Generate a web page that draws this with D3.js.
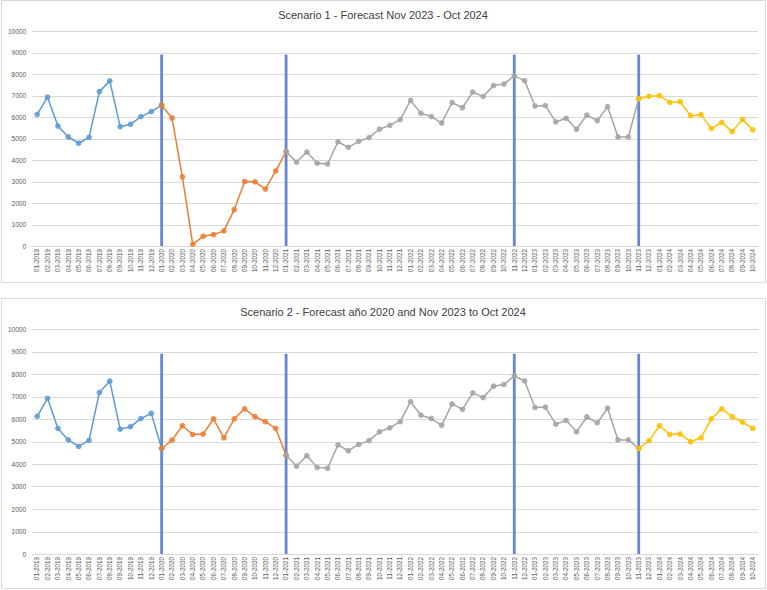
<!DOCTYPE html>
<html>
<head>
<meta charset="utf-8">
<script src="https://cdn.jsdelivr.net/npm/d3@7"></script>
<style>
  body { margin: 0; background: #fff; }
  svg { display: block; }
  text { font-family: "Liberation Sans", Arial, sans-serif; }
</style>
</head>
<body>
<div id="chart"></div>
<script>
// month labels 01-2019 .. 10-2024
const months = [];
for (let y = 2019; y <= 2024; y++) {
  for (let m = 1; m <= 12; m++) {
    if (y === 2024 && m > 10) break;
    months.push((m < 10 ? "0" + m : "" + m) + "-" + y);
  }
}

// actuals 01-2019 .. 12-2019
const actual2019 = [6120, 6920, 5580, 5070, 4780, 5050, 7180, 7680, 5550, 5660, 6020, 6250];
// actuals 01-2021 .. 10-2023
const actual2123 = [4390, 3900, 4370, 3850, 3810, 4850, 4590, 4870, 5040, 5430, 5610, 5880,
  6770, 6170, 6020, 5720, 6670, 6430, 7160, 6950, 7460, 7530, 7910, 7690,
  6510, 6530, 5770, 5940, 5430, 6090, 5830, 6480, 5070, 5070];

// scenario 1: 2020 actuals, forecast Nov 2023 - Oct 2024
const s1Year2020 = [6550, 5950, 3210, 80, 450, 530, 700, 1690, 3000, 2985, 2650, 3490];
const s1Forecast = [6850, 6960, 6990, 6680, 6710, 6060, 6110, 5460, 5750, 5320, 5890, 5400];

// scenario 2: forecast 2020, forecast Nov 2023 - Oct 2024
const s2Year2020 = [4690, 5060, 5700, 5310, 5330, 6010, 5160, 6010, 6450, 6100, 5880, 5580];
const s2Forecast = [4690, 5040, 5700, 5310, 5330, 4990, 5160, 6010, 6450, 6100, 5860, 5580];

const markers = ["01-2020", "01-2021", "11-2022", "11-2023"];
const markerTop = 8900;
const yTicks = d3.range(0, 10001, 1000);

const colors = { blue: "#5B9BD5", orange: "#ED7D31", gray: "#A5A5A5", yellow: "#FFC000" };

const width = 767, height = 590;
const svg = d3.select("#chart").append("svg")
  .attr("width", width)
  .attr("height", height);

function drawChart(cfg) {
  const values = actual2019.concat(cfg.y2020, actual2123, cfg.forecast);
  const data = months.map((m, i) => ({ m: m, v: values[i], i: i }));

  const g = svg.append("g");

  g.append("rect")
    .attr("x", 1.5).attr("y", cfg.top + 0.5)
    .attr("width", 764).attr("height", cfg.boxH)
    .attr("fill", "#fff")
    .attr("stroke", "#d9d9d9");

  const x = d3.scaleBand().domain(months).range([32, 758]);
  const y = d3.scaleLinear().domain([0, 10000]).range([cfg.y0, cfg.y1]);
  const cx = d => x(d.m) + x.bandwidth() / 2;

  g.append("text")
    .attr("x", cfg.titleX).attr("y", cfg.titleY)
    .attr("text-anchor", "middle")
    .attr("font-size", 11)
    .attr("fill", "#404040")
    .text(cfg.title);

  // gridlines
  g.append("g").selectAll("line")
    .data(yTicks)
    .enter().append("line")
    .attr("x1", 32).attr("x2", 758)
    .attr("y1", d => Math.round(y(d)) + 0.5)
    .attr("y2", d => Math.round(y(d)) + 0.5)
    .attr("stroke", "#d9d9d9")
    .attr("stroke-width", 1);

  // y axis labels
  const yAxis = d3.axisLeft(y).tickValues(yTicks).tickFormat(d3.format("d")).tickSize(0).tickPadding(0);
  g.append("g")
    .attr("transform", "translate(26,0)")
    .call(yAxis)
    .call(s => s.select(".domain").remove())
    .selectAll("text")
    .attr("font-size", 6.5)
    .attr("fill", "#595959")
    .attr("font-family", "Liberation Sans, Arial, sans-serif");

  // x axis labels, rotated
  const xAxis = d3.axisBottom(x).tickSize(0).tickPadding(0);
  const xg = g.append("g")
    .attr("transform", "translate(0," + cfg.y0 + ")")
    .call(xAxis);
  xg.select(".domain").remove();
  xg.selectAll("text")
    .attr("font-size", 6.3)
    .attr("fill", "#595959")
    .attr("font-family", "Liberation Sans, Arial, sans-serif")
    .attr("text-anchor", "end")
    .attr("transform", "translate(2.3,3) rotate(-90)")
    .attr("dy", 0)
    .attr("x", 0).attr("y", 0);

  // vertical markers
  g.append("g").selectAll("line")
    .data(markers)
    .enter().append("line")
    .attr("x1", d => x(d) + x.bandwidth() / 2)
    .attr("x2", d => x(d) + x.bandwidth() / 2)
    .attr("y1", y(0))
    .attr("y2", y(markerTop))
    .attr("stroke", "#6586D0")
    .attr("stroke-width", 2.8);

  const segments = [
    { from: 0, to: 12, color: colors.blue },
    { from: 12, to: 24, color: colors.orange },
    { from: 24, to: 58, color: colors.gray },
    { from: 58, to: 69, color: colors.yellow }
  ];

  const line = d3.line().x(cx).y(d => y(d.v));

  segments.forEach(seg => {
    const pts = data.slice(seg.from, seg.to + 1);
    g.append("path")
      .datum(pts)
      .attr("d", line)
      .attr("fill", "none")
      .attr("stroke", seg.color)
      .attr("stroke-width", 1.5)
      .attr("stroke-linejoin", "round");
    g.append("g").selectAll("circle")
      .data(pts)
      .enter().append("circle")
      .attr("cx", cx)
      .attr("cy", d => y(d.v))
      .attr("r", 2.4)
      .attr("fill", seg.color)
      .attr("fill-opacity", 0.85)
      .attr("stroke", seg.color)
      .attr("stroke-width", 0.8);
  });
}

drawChart({
  top: 0, boxH: 282, y0: 246, y1: 31,
  titleX: 383, titleY: 19,
  title: "Scenario 1 - Forecast Nov 2023 - Oct 2024",
  y2020: s1Year2020, forecast: s1Forecast
});

drawChart({
  top: 298, boxH: 290, y0: 554, y1: 329,
  titleX: 383, titleY: 316,
  title: "Scenario 2 - Forecast año 2020 and Nov 2023 to Oct 2024",
  y2020: s2Year2020, forecast: s2Forecast
});
</script>
</body>
</html>
